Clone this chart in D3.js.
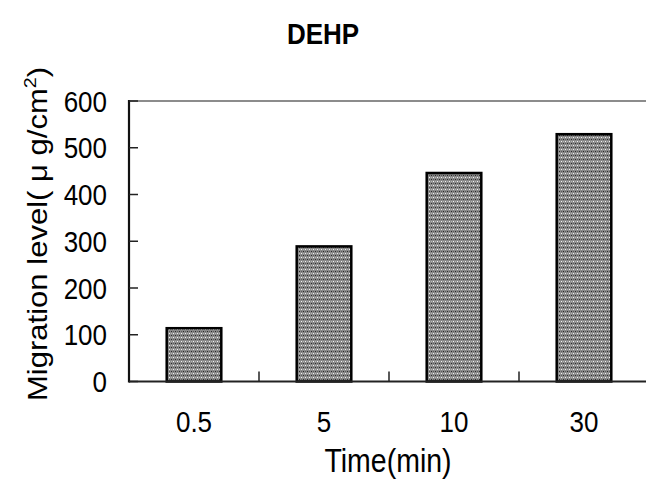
<!DOCTYPE html>
<html>
<head>
<meta charset="utf-8">
<script src="https://cdn.jsdelivr.net/npm/d3@7"></script>
<style>
  html, body { margin: 0; padding: 0; background: #fff; }
  svg { display: block; font-family: "Liberation Sans", Arial, sans-serif; }
</style>
</head>
<body>
<svg id="chart" width="646" height="483"></svg>
<script>
// ---- data ----
const categories = ["0.5", "5", "10", "30"];
const values = [114, 289, 446, 529];
const yTicks = [0, 100, 200, 300, 400, 500, 600];
const titleText = "DEHP";
const xLabel = "Time(min)";

(function () {
// ---- layout ----
const W = 646, H = 483;
const mLeft = 129, mRight = 649, mTop = 101, mBottom = 381.5;
const sy = 1.15; // vertical text stretch seen in the reference

const svg = d3.select("#chart");

// pattern fill
const defs = svg.append("defs");
const pat = defs.append("pattern").attr("id", "dots").attr("patternUnits", "userSpaceOnUse")
  .attr("width", 4).attr("height", 4);
pat.append("rect").attr("width", 4).attr("height", 4).attr("fill", "#8a8a8a");
pat.append("rect").attr("x", 1).attr("y", 1).attr("width", 1).attr("height", 1).attr("fill", "#f2f2f2");
pat.append("rect").attr("x", 3).attr("y", 3).attr("width", 1).attr("height", 1).attr("fill", "#2a2a2a");
pat.append("rect").attr("x", 3).attr("y", 1).attr("width", 1).attr("height", 1).attr("fill", "#b8b8b8");
pat.append("rect").attr("x", 1).attr("y", 3).attr("width", 1).attr("height", 1).attr("fill", "#5a5a5a");

const x = d3.scaleBand().domain(categories).range([mLeft, mRight]).padding(0);
const y = d3.scaleLinear().domain([0, 600]).range([mBottom, mTop]);

// top border
svg.append("line").attr("x1", mLeft).attr("x2", W).attr("y1", mTop).attr("y2", mTop)
  .attr("stroke", "#8c8c8c").attr("stroke-width", 2);

// bars
const bw = x.bandwidth() * 0.42;
svg.selectAll("rect.bar").data(values).join("rect")
  .attr("class", "bar")
  .attr("x", (d, i) => x(categories[i]) + (x.bandwidth() - bw) / 2)
  .attr("y", d => y(d))
  .attr("width", bw)
  .attr("height", d => mBottom - y(d))
  .attr("fill", "url(#dots)")
  .attr("stroke", "#000")
  .attr("stroke-width", 2.5);

// bottom axis line
svg.append("line").attr("x1", mLeft).attr("x2", W).attr("y1", mBottom).attr("y2", mBottom)
  .attr("stroke", "#222").attr("stroke-width", 2);
// x ticks at band boundaries (inward)
const xb = categories.slice(1).map(c => x(c));
svg.selectAll("line.xt").data(xb).join("line").attr("class", "xt")
  .attr("x1", d => d).attr("x2", d => d).attr("y1", mBottom).attr("y2", mBottom - 10)
  .attr("stroke", "#222").attr("stroke-width", 1.5);

// left axis
svg.append("line").attr("x1", mLeft).attr("x2", mLeft).attr("y1", mTop - 1).attr("y2", mBottom + 1)
  .attr("stroke", "#111").attr("stroke-width", 2.2);
svg.selectAll("line.yt").data(yTicks).join("line").attr("class", "yt")
  .attr("x1", mLeft).attr("x2", mLeft + 9).attr("y1", d => y(d)).attr("y2", d => y(d))
  .attr("stroke", "#222").attr("stroke-width", 1.5);

// y tick labels
svg.selectAll("text.yl").data(yTicks).join("text").attr("class", "yl")
  .attr("transform", d => `translate(107,${y(d) + 10.7}) scale(1,${sy})`)
  .attr("text-anchor", "end").attr("font-size", 26).attr("fill", "#000")
  .text(d => d);

// x tick labels
svg.selectAll("text.xl").data(categories).join("text").attr("class", "xl")
  .attr("transform", d => `translate(${x(d) + x.bandwidth() / 2},432) scale(1,${sy})`)
  .attr("text-anchor", "middle").attr("font-size", 26).attr("fill", "#000")
  .text(d => d);

// x axis title
svg.append("text")
  .attr("transform", `translate(${(mLeft + mRight) / 2 - 1},472) scale(1,${sy})`)
  .attr("text-anchor", "middle").attr("font-size", 28.5).attr("fill", "#000")
  .text(xLabel);

// y axis title
const yt = svg.append("text")
  .attr("transform", `translate(47,234) scale(1,${sy}) rotate(-90)`)
  .attr("text-anchor", "middle").attr("font-size", 27).attr("fill", "#000");
yt.append("tspan").text("Migration level( μ g/cm");
yt.append("tspan").attr("font-size", 17).attr("dy", -11).text("2");
yt.append("tspan").attr("dy", 11).text(")");

// chart title
svg.append("text")
  .attr("transform", `translate(323,44) scale(1,${sy})`)
  .attr("text-anchor", "middle").attr("font-size", 26).attr("font-weight", "bold").attr("fill", "#000")
  .text(titleText);
})();
</script>
</body>
</html>
